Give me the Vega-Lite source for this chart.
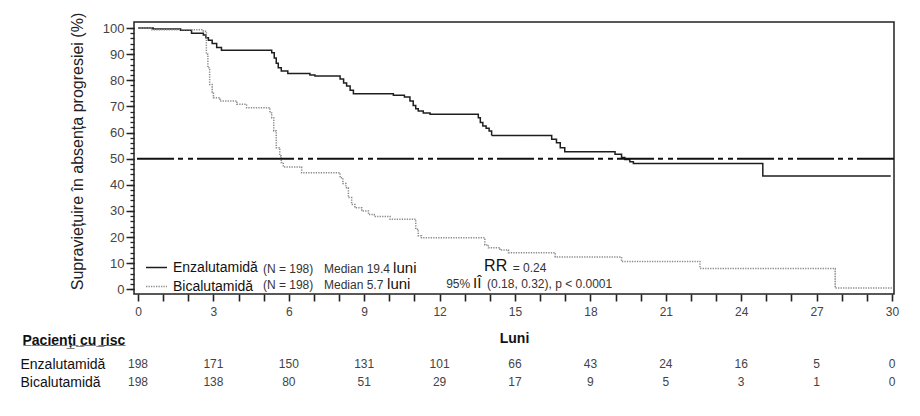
{
  "$schema": "https://vega.github.io/schema/vega-lite/v6.json",
  "background": "white",
  "autosize": {"type": "pad"},
  "padding": {"left": 20, "top": 11, "right": 10, "bottom": 5},
  "bounds": "flush",
  "spacing": 61,
  "config": {
    "font": "Liberation Sans",
    "view": {"stroke": null},
    "axisX": {"labelOverlap": false}
  },
  "datasets": {
    "km": [
      {"group": "Enzalutamidă", "t": 0, "s": 100},
      {"group": "Enzalutamidă", "t": 0.6, "s": 99.6},
      {"group": "Enzalutamidă", "t": 1.7, "s": 99.1},
      {"group": "Enzalutamidă", "t": 2.13, "s": 98},
      {"group": "Enzalutamidă", "t": 2.6, "s": 97.3},
      {"group": "Enzalutamidă", "t": 2.7, "s": 96.3},
      {"group": "Enzalutamidă", "t": 2.8, "s": 95.3},
      {"group": "Enzalutamidă", "t": 2.95, "s": 94.1},
      {"group": "Enzalutamidă", "t": 3.13, "s": 92.5},
      {"group": "Enzalutamidă", "t": 3.32, "s": 91.5},
      {"group": "Enzalutamidă", "t": 5.32, "s": 90.5},
      {"group": "Enzalutamidă", "t": 5.42, "s": 88.5},
      {"group": "Enzalutamidă", "t": 5.5, "s": 86.5},
      {"group": "Enzalutamidă", "t": 5.58, "s": 84.8},
      {"group": "Enzalutamidă", "t": 5.7, "s": 83.5},
      {"group": "Enzalutamidă", "t": 5.96, "s": 82.6},
      {"group": "Enzalutamidă", "t": 6.84, "s": 82},
      {"group": "Enzalutamidă", "t": 7.04, "s": 81.6},
      {"group": "Enzalutamidă", "t": 8.04, "s": 80.5},
      {"group": "Enzalutamidă", "t": 8.18, "s": 79},
      {"group": "Enzalutamidă", "t": 8.3, "s": 77.8},
      {"group": "Enzalutamidă", "t": 8.44, "s": 76.2},
      {"group": "Enzalutamidă", "t": 8.57, "s": 74.8},
      {"group": "Enzalutamidă", "t": 10.16, "s": 74.3},
      {"group": "Enzalutamidă", "t": 10.6, "s": 73.6},
      {"group": "Enzalutamidă", "t": 10.82, "s": 72.1},
      {"group": "Enzalutamidă", "t": 10.95, "s": 70.3},
      {"group": "Enzalutamidă", "t": 11.05, "s": 69.1},
      {"group": "Enzalutamidă", "t": 11.15, "s": 68.2},
      {"group": "Enzalutamidă", "t": 11.35, "s": 67.5},
      {"group": "Enzalutamidă", "t": 11.62, "s": 67},
      {"group": "Enzalutamidă", "t": 13.54, "s": 65.7},
      {"group": "Enzalutamidă", "t": 13.62, "s": 63.8},
      {"group": "Enzalutamidă", "t": 13.72, "s": 62.5},
      {"group": "Enzalutamidă", "t": 13.85, "s": 61.6},
      {"group": "Enzalutamidă", "t": 13.97, "s": 60.6},
      {"group": "Enzalutamidă", "t": 14.07, "s": 58.9},
      {"group": "Enzalutamidă", "t": 16.46, "s": 57.4},
      {"group": "Enzalutamidă", "t": 16.65, "s": 56.1},
      {"group": "Enzalutamidă", "t": 16.8, "s": 54.2},
      {"group": "Enzalutamidă", "t": 16.98, "s": 52.6},
      {"group": "Enzalutamidă", "t": 18.98, "s": 51.7},
      {"group": "Enzalutamidă", "t": 19.24, "s": 50.4},
      {"group": "Enzalutamidă", "t": 19.37, "s": 49.7},
      {"group": "Enzalutamidă", "t": 19.57, "s": 48.8},
      {"group": "Enzalutamidă", "t": 19.71, "s": 48.1},
      {"group": "Enzalutamidă", "t": 24.86, "s": 43.4},
      {"group": "Enzalutamidă", "t": 29.95, "s": 43.4},
      {"group": "Bicalutamidă", "t": 0, "s": 100},
      {"group": "Bicalutamidă", "t": 0.55, "s": 99.3},
      {"group": "Bicalutamidă", "t": 2.6, "s": 98.8},
      {"group": "Bicalutamidă", "t": 2.72, "s": 90},
      {"group": "Bicalutamidă", "t": 2.78, "s": 84.8},
      {"group": "Bicalutamidă", "t": 2.85, "s": 78.4},
      {"group": "Bicalutamidă", "t": 2.95, "s": 75.5},
      {"group": "Bicalutamidă", "t": 3.0, "s": 73.3},
      {"group": "Bicalutamidă", "t": 3.26, "s": 72.1},
      {"group": "Bicalutamidă", "t": 3.93, "s": 70.8},
      {"group": "Bicalutamidă", "t": 4.32, "s": 69.5},
      {"group": "Bicalutamidă", "t": 5.25, "s": 67.5},
      {"group": "Bicalutamidă", "t": 5.32, "s": 65.7},
      {"group": "Bicalutamidă", "t": 5.4, "s": 60.6},
      {"group": "Bicalutamidă", "t": 5.5, "s": 54.2},
      {"group": "Bicalutamidă", "t": 5.64, "s": 51},
      {"group": "Bicalutamidă", "t": 5.7, "s": 48.5},
      {"group": "Bicalutamidă", "t": 5.78, "s": 46.8},
      {"group": "Bicalutamidă", "t": 6.51, "s": 44.6},
      {"group": "Bicalutamidă", "t": 8.04, "s": 42.7},
      {"group": "Bicalutamidă", "t": 8.15, "s": 40.5},
      {"group": "Bicalutamidă", "t": 8.27, "s": 38.9},
      {"group": "Bicalutamidă", "t": 8.37, "s": 35.1},
      {"group": "Bicalutamidă", "t": 8.5, "s": 32.5},
      {"group": "Bicalutamidă", "t": 8.63, "s": 31.2},
      {"group": "Bicalutamidă", "t": 8.9, "s": 30},
      {"group": "Bicalutamidă", "t": 9.17, "s": 28.6},
      {"group": "Bicalutamidă", "t": 9.4, "s": 27.9},
      {"group": "Bicalutamidă", "t": 10.03, "s": 26.8},
      {"group": "Bicalutamidă", "t": 11.05, "s": 23},
      {"group": "Bicalutamidă", "t": 11.15, "s": 20.5},
      {"group": "Bicalutamidă", "t": 11.28, "s": 19.7},
      {"group": "Bicalutamidă", "t": 13.8, "s": 17},
      {"group": "Bicalutamidă", "t": 13.94, "s": 15.9},
      {"group": "Bicalutamidă", "t": 14.4, "s": 15},
      {"group": "Bicalutamidă", "t": 14.74, "s": 14},
      {"group": "Bicalutamidă", "t": 16.6, "s": 12.4},
      {"group": "Bicalutamidă", "t": 19.24, "s": 10.6},
      {"group": "Bicalutamidă", "t": 22.36, "s": 8},
      {"group": "Bicalutamidă", "t": 27.74, "s": 0.5},
      {"group": "Bicalutamidă", "t": 30, "s": 0.5}
    ],
    "risk": [
      {"group": "Enzalutamidă", "month": 0, "n": 198},
      {"group": "Enzalutamidă", "month": 3, "n": 171},
      {"group": "Enzalutamidă", "month": 6, "n": 150},
      {"group": "Enzalutamidă", "month": 9, "n": 131},
      {"group": "Enzalutamidă", "month": 12, "n": 101},
      {"group": "Enzalutamidă", "month": 15, "n": 66},
      {"group": "Enzalutamidă", "month": 18, "n": 43},
      {"group": "Enzalutamidă", "month": 21, "n": 24},
      {"group": "Enzalutamidă", "month": 24, "n": 16},
      {"group": "Enzalutamidă", "month": 27, "n": 5},
      {"group": "Enzalutamidă", "month": 30, "n": 0},
      {"group": "Bicalutamidă", "month": 0, "n": 198},
      {"group": "Bicalutamidă", "month": 3, "n": 138},
      {"group": "Bicalutamidă", "month": 6, "n": 80},
      {"group": "Bicalutamidă", "month": 9, "n": 51},
      {"group": "Bicalutamidă", "month": 12, "n": 29},
      {"group": "Bicalutamidă", "month": 15, "n": 17},
      {"group": "Bicalutamidă", "month": 18, "n": 9},
      {"group": "Bicalutamidă", "month": 21, "n": 5},
      {"group": "Bicalutamidă", "month": 24, "n": 3},
      {"group": "Bicalutamidă", "month": 27, "n": 1},
      {"group": "Bicalutamidă", "month": 30, "n": 0}
    ]
  },
  "vconcat": [
    {
      "width": 760,
      "height": 272,
      "view": {"stroke": "#222", "strokeWidth": 1.5},
      "resolve": {"axis": {"x": "independent", "y": "independent"}},
      "layer": [
        {
          "data": {"name": "km"},
          "mark": {"type": "line", "interpolate": "step-after", "strokeWidth": 1.5},
          "encoding": {
            "x": {
              "field": "t", "type": "quantitative",
              "scale": {"domain": [-0.16, 30.08], "nice": false, "zero": false},
              "axis": {
                "values": [0,1,2,3,4,5,6,7,8,9,10,11,12,13,14,15,16,17,18,19,20,21,22,23,24,25,26,27,28,29,30],
                "labelExpr": "datum.value % 3 === 0 ? datum.label : ''",
                "grid": false, "domain": false,
                "tickSize": 7, "tickWidth": 1.6, "tickColor": "#222",
                "labelFont": "Liberation Sans", "labelFontSize": 12, "labelColor": "#444",
                "labelPadding": 5, "labelFlush": false, "labelOverlap": false,
                "title": "Luni", "titleFont": "Liberation Sans", "titleFontSize": 14,
                "titleFontWeight": "bold", "titleColor": "#111", "titlePadding": 14
              }
            },
            "y": {
              "field": "s", "type": "quantitative",
              "scale": {"domain": [-1.8, 102.3], "nice": false, "zero": false},
              "axis": {
                "values": [0,10,20,30,40,50,60,70,80,90,100],
                "grid": false, "domain": false, "orient": "left",
                "tickSize": 8, "tickWidth": 1.5, "tickColor": "#222",
                "labelFont": "Liberation Sans", "labelFontSize": 13, "labelColor": "#444",
                "labelPadding": 2,
                "title": "Supraviețuire în absența progresiei (%)",
                "titleFont": "Liberation Sans", "titleFontSize": 16, "titleFontWeight": "normal",
                "titleColor": "#222", "titlePadding": 17, "titleY": 129
              }
            },
            "color": {
              "field": "group", "type": "nominal",
              "scale": {"domain": ["Enzalutamidă", "Bicalutamidă"], "range": ["#1e1e1e", "#8a8a8a"]},
              "legend": {
                "title": null, "orient": "none", "legendX": 11, "legendY": 234,
                "symbolType": "stroke", "symbolSize": 441, "symbolStrokeWidth": 1.5,
                "labelFont": "Liberation Sans", "labelFontSize": 14, "labelColor": "#111",
                "labelOffset": 5, "rowPadding": -6, "padding": 0
              }
            },
            "strokeDash": {
              "field": "group", "type": "nominal",
              "scale": {"domain": ["Enzalutamidă", "Bicalutamidă"], "range": [[1, 0], [1.3, 1.2]]},
              "legend": {
                "title": null, "orient": "none", "legendX": 11, "legendY": 234,
                "symbolType": "stroke", "symbolSize": 441, "symbolStrokeWidth": 1.5,
                "labelFont": "Liberation Sans", "labelFontSize": 14, "labelColor": "#111",
                "labelOffset": 5, "rowPadding": -6, "padding": 0
              }
            }
          }
        },
        {
          "data": {"values": [{}]},
          "mark": {"type": "rule", "strokeDash": [37, 4, 5, 5, 5, 4], "strokeWidth": 2, "color": "#111"},
          "encoding": {
            "y": {
              "datum": 50, "type": "quantitative",
              "axis": {
                "values": [0,2,4,6,8,10,12,14,16,18,20,22,24,26,28,30,32,34,36,38,40,42,44,46,48,50,52,54,56,58,60,62,64,66,68,70,72,74,76,78,80,82,84,86,88,90,92,94,96,98,100],
                "orient": "left", "labels": false, "title": null, "grid": false, "domain": false,
                "tickSize": 4, "tickWidth": 1.3, "tickColor": "#222"
              }
            }
          }
        },
        {
          "data": {"values": [{}]},
          "mark": {"type": "text", "align": "left", "baseline": "alphabetic", "font": "Liberation Sans", "fontSize": 12, "color": "#333"},
          "encoding": {"x": {"datum": 4.97, "axis": null}, "y": {"datum": 6.3, "axis": null}, "text": {"value": "(N = 198)"}}
        },
        {
          "data": {"values": [{}]},
          "mark": {"type": "text", "align": "left", "baseline": "alphabetic", "font": "Liberation Sans", "fontSize": 12, "color": "#333"},
          "encoding": {"x": {"datum": 4.97, "axis": null}, "y": {"datum": 0, "axis": null}, "text": {"value": "(N = 198)"}}
        },
        {
          "data": {"values": [{}]},
          "mark": {"type": "text", "align": "left", "baseline": "alphabetic", "font": "Liberation Sans", "fontSize": 12, "color": "#333"},
          "encoding": {"x": {"datum": 7.4, "axis": null}, "y": {"datum": 6.3, "axis": null}, "text": {"value": "Median 19.4"}}
        },
        {
          "data": {"values": [{}]},
          "mark": {"type": "text", "align": "left", "baseline": "alphabetic", "font": "Liberation Sans", "fontSize": 12, "color": "#333"},
          "encoding": {"x": {"datum": 7.4, "axis": null}, "y": {"datum": 0, "axis": null}, "text": {"value": "Median 5.7"}}
        },
        {
          "data": {"values": [{}]},
          "mark": {"type": "text", "align": "left", "baseline": "alphabetic", "font": "Liberation Sans", "fontSize": 15, "color": "#111"},
          "encoding": {"x": {"datum": 10.15, "axis": null}, "y": {"datum": 6.3, "axis": null}, "text": {"value": "luni"}}
        },
        {
          "data": {"values": [{}]},
          "mark": {"type": "text", "align": "left", "baseline": "alphabetic", "font": "Liberation Sans", "fontSize": 15, "color": "#111"},
          "encoding": {"x": {"datum": 9.91, "axis": null}, "y": {"datum": 0, "axis": null}, "text": {"value": "luni"}}
        },
        {
          "data": {"values": [{}]},
          "mark": {"type": "text", "align": "left", "baseline": "alphabetic", "font": "Liberation Sans", "fontSize": 16, "color": "#111"},
          "encoding": {"x": {"datum": 13.77, "axis": null}, "y": {"datum": 7.0, "axis": null}, "text": {"value": "RR"}}
        },
        {
          "data": {"values": [{}]},
          "mark": {"type": "text", "align": "left", "baseline": "alphabetic", "font": "Liberation Sans", "fontSize": 12, "color": "#333"},
          "encoding": {"x": {"datum": 14.91, "axis": null}, "y": {"datum": 6.7, "axis": null}, "text": {"value": "= 0.24"}}
        },
        {
          "data": {"values": [{}]},
          "mark": {"type": "text", "align": "left", "baseline": "alphabetic", "font": "Liberation Sans", "fontSize": 12, "color": "#333"},
          "encoding": {"x": {"datum": 12.26, "axis": null}, "y": {"datum": 0.5, "axis": null}, "text": {"value": "95%"}}
        },
        {
          "data": {"values": [{}]},
          "mark": {"type": "text", "align": "left", "baseline": "alphabetic", "font": "Liberation Sans", "fontSize": 15, "color": "#111"},
          "encoding": {"x": {"datum": 13.33, "axis": null}, "y": {"datum": 0.6, "axis": null}, "text": {"value": "IÎ"}}
        },
        {
          "data": {"values": [{}]},
          "mark": {"type": "text", "align": "left", "baseline": "alphabetic", "font": "Liberation Sans", "fontSize": 12, "color": "#333"},
          "encoding": {"x": {"datum": 13.89, "axis": null}, "y": {"datum": 0.4, "axis": null}, "text": {"value": "(0.18, 0.32), p < 0.0001"}}
        }
      ]
    },
    {
      "width": 760,
      "height": 36,
      "data": {"name": "risk"},
      "mark": {"type": "text", "font": "Liberation Sans", "fontSize": 12, "color": "#444"},
      "encoding": {
        "x": {
          "field": "month", "type": "quantitative",
          "scale": {"domain": [-0.16, 30.08], "nice": false, "zero": false},
          "axis": null
        },
        "y": {
          "field": "group", "type": "nominal",
          "scale": {"domain": ["Enzalutamidă", "Bicalutamidă"]},
          "axis": {
            "title": "P̲a̲c̲i̲e̲n̲ț̲i̲ ̲c̲u̲ ̲r̲i̲s̲c̲",
            "titleAngle": 0, "titleAlign": "left", "titleBaseline": "middle",
            "titleX": -112, "titleY": -15,
            "titleFont": "Liberation Sans", "titleFontSize": 14, "titleFontWeight": "bold", "titleColor": "#111",
            "labelAlign": "left", "labelPadding": 114, "ticks": false, "tickSize": 0, "domain": false,
            "labelFont": "Liberation Sans", "labelFontSize": 14, "labelColor": "#111"
          }
        },
        "text": {"field": "n", "type": "quantitative"}
      }
    }
  ]
}
